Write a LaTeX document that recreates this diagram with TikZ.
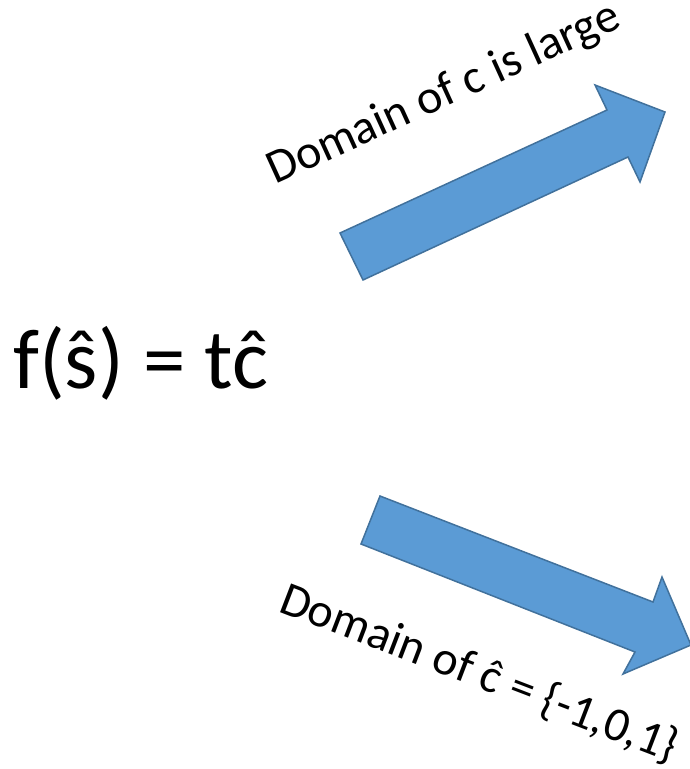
\documentclass[tikz,border=0pt]{standalone}
\usepackage{fontspec}
\setmainfont{Carlito}
\definecolor{arrfill}{HTML}{5B9BD5}
\definecolor{arrline}{HTML}{41719C}
\begin{document}
\begin{tikzpicture}[x=1pt,y=-1pt,
  blockarrow/.style={fill=arrfill,draw=arrline,line width=1.5pt,line join=miter},
  lbl/.style={inner sep=0pt,anchor=base west,font=\fontsize{48}{57}\selectfont}]
\useasboundingbox (0,0) rectangle (690,769);
\clip (0,0) rectangle (690,769);
% upper arrow
\coordinate (u1) at (340,233);
\coordinate (u2) at (607,110);
\coordinate (u3) at (595,85);
\coordinate (u4) at (665,112);
\coordinate (u5) at (640,182);
\coordinate (u6) at (628,157);
\coordinate (u7) at (363,280);
\draw[blockarrow] (u1) -- (u2) -- (u3) -- (u4) -- (u5) -- (u6) -- (u7) -- cycle;
% lower arrow
\coordinate (l1) at (380,496);
\coordinate (l2) at (653,602);
\coordinate (l3) at (662,577);
\coordinate (l4) at (691,645);
\coordinate (l5) at (623,674);
\coordinate (l6) at (635,652);
\coordinate (l7) at (361,544);
\draw[blockarrow] (l1) -- (l2) -- (l3) -- (l4) -- (l5) -- (l6) -- (l7) -- cycle;
% texts
\node[inner sep=0pt,anchor=base west,font=\fontsize{85}{100}\selectfont] (formula) at (13,388) {f(ŝ) = tĉ};
\node[lbl,rotate=24.5] (toplbl) at (275,185) {Domain of c is large};
\node[lbl,rotate=-21] (botlbl) at (277,611) {Domain of ĉ = \{-1,0,1\}};
\end{tikzpicture}
\end{document}
